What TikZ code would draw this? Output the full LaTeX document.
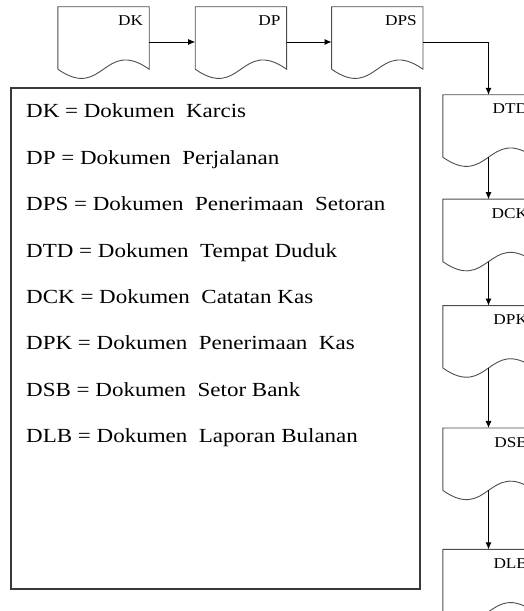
\documentclass[tikz,border=0pt]{standalone}
\usepackage{fontspec}
\setmainfont{Liberation Serif}[FakeStretch=1.15]
\usepackage{tikz}
\usetikzlibrary{arrows.meta,calc,positioning}
\definecolor{garisdok}{HTML}{4D4D4D}
\definecolor{garisbox}{HTML}{3A3A3A}
\tikzset{
  dokumen/.style={
    minimum width=91pt,
    text width=79pt,
    align=right,
    inner xsep=6pt,
    inner ysep=4.5pt,
    text height=14.5pt,
    text depth=38.5pt,
    font=\fontsize{15}{17}\selectfont
  },
  docline/.style={
    draw=garisdok,
    line width=0.9pt
  },
  kotak/.style={
    draw=garisbox,
    line width=1.8pt,
    minimum width=409pt,
    minimum height=501pt,
    inner sep=0pt
  },
  keterangan/.style={
    anchor=base west,
    inner sep=0pt,
    text height=14pt,
    text depth=5pt,
    font=\fontsize{20}{24}\selectfont
  },
  alur/.style={
    -{Latex[length=7pt,width=6pt]},
    line width=0.9pt,
    draw=black
  }
}
% outline of a document symbol around a node
\newcommand{\gambardok}[1]{%
  \draw[docline] (#1.south west) -- (#1.north west) -- (#1.north east) -- (#1.south east)
    .. controls ($(#1.south)+(0,32)$) and ($(#1.south)+(0,-32)$) .. (#1.south west);
}

\begin{document}
\begin{tikzpicture}[x=1pt,y=1pt]
    \useasboundingbox (0,0) rectangle (524,611);
    \clip (0,0) rectangle (524,611);

    % top row
    \node[dokumen] (dk) at (103.5,573) {DK};
    \node[dokumen, right=46pt of dk] (dp) {DP};
    \node[dokumen, right=45pt of dp] (dps) {DPS};

    % right column
    \node[dokumen] (dtd) at (488.5,485) {DTD};
    \node[dokumen, below=42pt of dtd] (dck) {DCK};
    \node[dokumen, below=44pt of dck] (dpk) {DPK};
    \node[dokumen, below=60pt of dpk] (dsb) {DSB};
    \node[dokumen, below=59pt of dsb] (dlb) {DLB};

    \gambardok{dk}
    \gambardok{dp}
    \gambardok{dps}
    \gambardok{dtd}
    \gambardok{dck}
    \gambardok{dpk}
    \gambardok{dsb}
    \gambardok{dlb}

    \draw[alur] ([yshift=-4pt]dk.east) -- ([yshift=-4pt]dp.west);
    \draw[alur] ([yshift=-4pt]dp.east) -- ([yshift=-4pt]dps.west);
    \draw[alur] ([yshift=-4pt]dps.east) -| (dtd.north);
    \draw[alur] (dtd.south) -- (dck.north);
    \draw[alur] (dck.south) -- (dpk.north);
    \draw[alur] (dpk.south) -- (dsb.north);
    \draw[alur] (dsb.south) -- (dlb.north);

    % legend
    \node[kotak] (legenda) at (215.5,272.5) {};
    \node[keterangan] (k1) at (26,493) {DK = Dokumen~~Karcis};
    \node[keterangan, below=27pt of k1.south west, anchor=north west] (k2) {DP = Dokumen~~Perjalanan};
    \node[keterangan, below=27pt of k2.south west, anchor=north west] (k3) {DPS = Dokumen~~Penerimaan~~Setoran};
    \node[keterangan, below=27pt of k3.south west, anchor=north west] (k4) {DTD = Dokumen~~Tempat Duduk};
    \node[keterangan, below=27pt of k4.south west, anchor=north west] (k5) {DCK = Dokumen~~Catatan Kas};
    \node[keterangan, below=27pt of k5.south west, anchor=north west] (k6) {DPK = Dokumen~~Penerimaan~~Kas};
    \node[keterangan, below=27pt of k6.south west, anchor=north west] (k7) {DSB = Dokumen~~Setor Bank};
    \node[keterangan, below=27pt of k7.south west, anchor=north west] (k8) {DLB = Dokumen~~Laporan Bulanan};
\end{tikzpicture}
\end{document}
